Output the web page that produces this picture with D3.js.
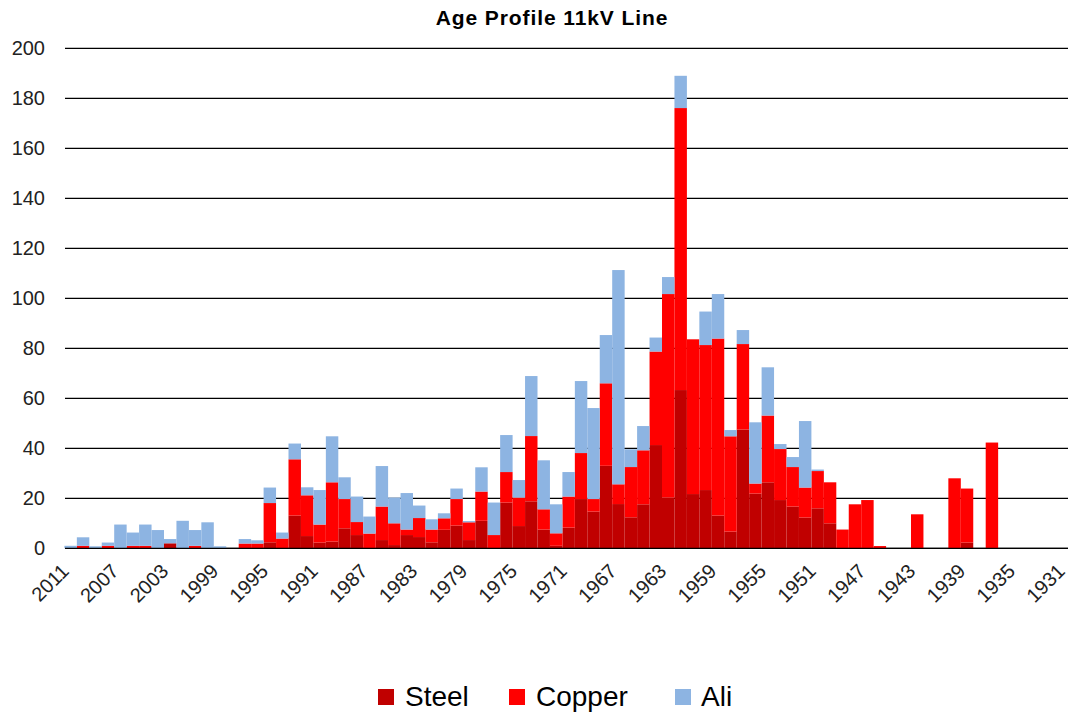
<!DOCTYPE html>
<html>
<head>
<meta charset="utf-8">
<script src="https://cdn.jsdelivr.net/npm/d3@7"></script>
<style>
  body { margin: 0; background: #fff; }
  svg { font-family: "Liberation Sans", Arial, sans-serif; }
</style>
</head>
<body>
<div id="chart"></div>
<script>
// years run from 2011 back to 1931, one bar per year
const years = d3.range(2011, 1930, -1);

const steel = [0, 0, 0, 0, 0, 0, 0, 0, 2, 0,
  0, 0, 0, 0, 0, 0, 2.4, 0, 13.1, 4.9,
  2.3, 2.7, 8, 5.3, 0, 3.3, 1.3, 5.3, 4.5, 2.4,
  7.4, 9.1, 3.3, 11, 0, 18.3, 8.9, 18.8, 7.5, 1,
  8.3, 19.7, 14.7, 33, 17.7, 12.4, 17.6, 41.3, 20.3, 63.3,
  21.7, 23.3, 13.1, 6.7, 47.5, 21.9, 26.4, 19.3, 16.7, 12.3,
  16, 10, 0, 0, 0, 0, 0, 0, 0, 0,
  0, 0, 2.3, 0, 0, 0, 0, 0, 0, 0, 0];

const copper = [0, 1, 0, 1, 0, 1, 1, 0, 0, 0,
  1, 0, 0, 0, 1.9, 1.9, 15.7, 3.9, 22.5, 16.3,
  7.2, 23.7, 11.7, 5.2, 5.9, 13.4, 8.7, 2.2, 7.6, 5.1,
  4.6, 10.6, 7.1, 11.7, 5.3, 12.2, 11.4, 26.1, 8.1, 5,
  12.4, 18.4, 5, 33, 7.9, 20.1, 21.6, 37.4, 81.4, 112.8,
  61.9, 58, 70.8, 38.1, 34.2, 4, 26.7, 20.4, 15.8, 12,
  14.9, 16.4, 7.5, 17.6, 19.3, 0.9, 0, 0, 13.6, 0,
  0, 28, 21.6, 0, 42.3, 0, 0, 0, 0, 0, 0];

const ali = [1, 3.4, 0.8, 1.3, 9.5, 5.3, 8.5, 7.3, 1.7, 11,
  6.3, 10.4, 0.8, 0, 1.8, 1.3, 6.2, 2.4, 6.3, 3.2,
  13.8, 18.4, 8.7, 10.2, 6.8, 16.2, 10.3, 14.6, 5, 4.1,
  2, 4.2, 0.5, 9.7, 13, 14.8, 7, 24, 19.6, 11.6,
  9.8, 28.8, 36.4, 19.3, 85.7, 7.1, 9.7, 5.6, 6.8, 12.9,
  0, 13.4, 17.8, 2.5, 5.6, 24.5, 19.3, 2, 4, 26.6,
  0.6, 0, 0, 0, 0, 0, 0, 0, 0, 0,
  0, 0, 0, 0, 0, 0, 0, 0, 0, 0, 0];

const seriesNames = ["Steel", "Copper", "Ali"];
const seriesColors = ["#C00000", "#FF0000", "#8DB4E2"];
const yTicks = d3.range(0, 201, 20);

const width = 1068, height = 715;
const plotLeft = 64.4, bandW = 12.45;
const plotRight = plotLeft + bandW * years.length; // runs a little past the edge, like the original
const gridLeft = 65, gridRight = 1068;
const plotTop = 48.3, plotBottom = 548.3;

const svg = d3.select("#chart").append("svg")
  .attr("width", width)
  .attr("height", height);

// rows for d3.stack, built from the arrays above
const rows = years.map((yr, i) => ({ year: yr, Steel: steel[i], Copper: copper[i], Ali: ali[i] }));
const stacked = d3.stack().keys(seriesNames)(rows);

const x = d3.scaleBand()
  .domain(years)
  .range([plotLeft, plotRight])
  .paddingInner(0)
  .paddingOuter(0);

const y = d3.scaleLinear()
  .domain([0, 200])
  .range([plotBottom, plotTop]);

// title
svg.append("text")
  .attr("x", 552)
  .attr("y", 25)
  .attr("text-anchor", "middle")
  .attr("style", "font-size: 21px; font-weight: bold; letter-spacing: 0.9px;")
  .text("Age Profile 11kV Line");

// gridlines + y labels
svg.append("g")
  .selectAll("line")
  .data(yTicks)
  .enter().append("line")
  .attr("x1", gridLeft)
  .attr("x2", gridRight)
  .attr("y1", d => y(d))
  .attr("y2", d => y(d))
  .attr("stroke", "#000")
  .attr("stroke-width", 1.3);

svg.append("g")
  .selectAll("text")
  .data(yTicks)
  .enter().append("text")
  .attr("x", 45)
  .attr("y", d => y(d))
  .attr("dy", "0.35em")
  .attr("text-anchor", "end")
  .attr("style", "font-size: 20px;")
  .attr("fill", "#222")
  .text(d => d);

// bars
svg.append("g")
  .selectAll("g")
  .data(stacked)
  .enter().append("g")
  .attr("fill", (d, i) => seriesColors[i])
  .selectAll("rect")
  .data(d => d.filter(p => p[1] - p[0] > 0))
  .enter().append("rect")
  .attr("x", d => x(d.data.year))
  .attr("width", x.bandwidth())
  .attr("y", d => y(d[1]))
  .attr("height", d => y(d[0]) - y(d[1]));

// base line drawn over the bars
svg.append("line")
  .attr("x1", gridLeft).attr("x2", gridRight)
  .attr("y1", y(0)).attr("y2", y(0))
  .attr("stroke", "#000").attr("stroke-width", 1.3);

// x labels, every 4th year, rotated
const xLabels = years.filter((yr, i) => i % 4 === 0);
svg.append("g")
  .selectAll("text")
  .data(xLabels)
  .enter().append("text")
  .attr("text-anchor", "end")
  .attr("transform", d => `translate(${x(d) + x.bandwidth() / 2 - 0.5},${plotBottom + 24}) rotate(-45)`)
  .attr("style", "font-size: 20px;")
  .attr("fill", "#222")
  .text(d => d);

// legend
const legendItems = [
  { name: "Steel", sx: 378, tx: 405 },
  { name: "Copper", sx: 509, tx: 536 },
  { name: "Ali", sx: 675, tx: 701 }
];
const legend = svg.append("g");
legend.selectAll("rect")
  .data(legendItems)
  .enter().append("rect")
  .attr("x", d => d.sx)
  .attr("y", 689)
  .attr("width", 16)
  .attr("height", 16)
  .attr("fill", (d, i) => seriesColors[i]);
legend.selectAll("text")
  .data(legendItems)
  .enter().append("text")
  .attr("x", d => d.tx)
  .attr("y", 706)
  .attr("style", "font-size: 28px;")
  .attr("fill", "#000")
  .text(d => d.name);
</script>
</body>
</html>
